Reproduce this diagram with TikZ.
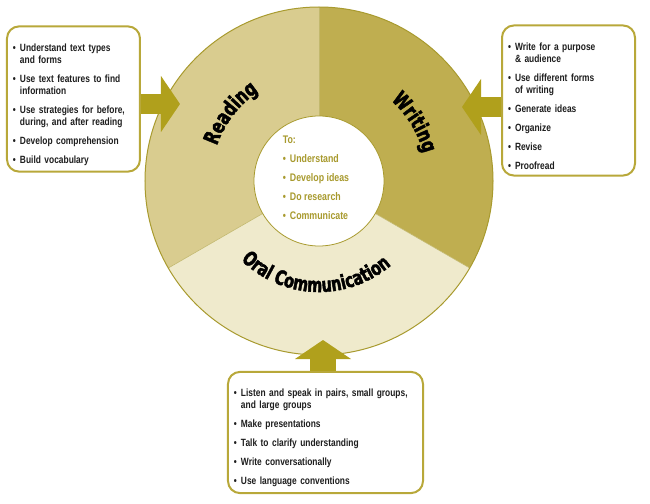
\documentclass[tikz,border=0pt]{standalone}
\usepackage{fontspec}
\setmainfont{Liberation Sans}[FakeStretch=0.8]
\newfontfamily\arcfont{DejaVu Sans}[FakeStretch=0.72, BoldFeatures={FakeBold=2.2}]
\usetikzlibrary{arrows.meta,decorations.text}
\definecolor{readcol}{RGB}{217,204,143}
\definecolor{writecol}{RGB}{191,174,80}
\definecolor{oralcol}{RGB}{239,234,204}
\definecolor{olive}{RGB}{168,154,46}
\definecolor{arrowcol}{RGB}{176,160,28}
\definecolor{boxcol}{RGB}{184,168,58}
\definecolor{txtcol}{RGB}{30,30,30}
\newcommand{\bul}[1]{\par\hangindent=7pt\hangafter=1\noindent\makebox[7pt][l]{\textbullet}#1}
\newcommand{\nl}{\hfil\break}
\newcommand{\labfont}{\arcfont\bfseries\fontsize{21}{21}\selectfont}
\newcommand{\oralfont}{\arcfont\bfseries\fontsize{20}{20}\selectfont}
\tikzset{
  infobox/.style={draw=boxcol, line width=2pt, rounded corners=12pt, fill=white,
    inner sep=6pt, align=left, text=txtcol,
    font=\bfseries\fontsize{10.5}{12}\selectfont\setlength{\parskip}{7pt}},
  bigarrow/.style={draw=arrowcol, line width=#1,
    -{Triangle[length=19pt, width=56pt, line width=0pt]}},
  arclabel/.style={decorate, decoration={text along path, text align=center, text={#1}}}
}
\begin{document}
\begin{tikzpicture}[x=1pt,y=1pt]
\useasboundingbox (-319,-322) rectangle (331,181);
% wheel
\foreach \a/\b/\c in {90/210/readcol, -30/90/writecol, 210/330/oralcol}
  \fill[\c] (0,0) -- (\a:174) arc[start angle=\a, end angle=\b, radius=174] -- cycle;
\foreach \a in {90,210,330} \draw[olive!70, line width=0.6pt] (0,0) -- (\a:174);
\draw[olive, line width=1pt] (0,0) circle[radius=174];
\draw[olive, fill=white, line width=0.8pt] (0,0) circle[radius=65];
\node[align=left, text=olive, font=\bfseries\fontsize{11}{19}\selectfont] (ctext) at (-3,3)
  {To:\\ \textbullet\hspace{4pt}Understand\\ \textbullet\hspace{4pt}Develop ideas\\
   \textbullet\hspace{4pt}Do research\\ \textbullet\hspace{4pt}Communicate};
% labels on the wheel
\path[arclabel={|\labfont|Reading}] (165:108) arc[start angle=165, end angle=120, radius=108];
\path[arclabel={|\labfont|Writing}] (60:108) arc[start angle=60, end angle=3, radius=108];
\path[arclabel={|\oralfont|Oral Communication}] (214:111) arc[start angle=214, end angle=322, radius=111];
% boxes
\node[infobox, text width=121pt, minimum height=132pt] (lbox) at (-245.5,82)
  {\bul{Understand text types\nl and forms}
   \bul{Use text features to find\nl information}
   \bul{Use strategies for before,\nl during, and after reading}
   \bul{Develop comprehension}
   \bul{Build vocabulary}};
\node[infobox, text width=121pt, minimum height=135pt] (rbox) at (249.5,80.5)
  {\bul{Write for a purpose\nl \& audience}
   \bul{Use different forms\nl of writing}
   \bul{Generate ideas}
   \bul{Organize}
   \bul{Revise}
   \bul{Proofread}};
\node[infobox, text width=183pt, minimum height=115pt] (bbox) at (6.5,-251.5)
  {\bul{Listen and speak in pairs, small groups,\nl and large groups}
   \bul{Make presentations}
   \bul{Talk to clarify understanding}
   \bul{Write conversationally}
   \bul{Use language conventions}};
% arrows into the wheel
\coordinate (ltip) at (-139,77);
\coordinate (rtip) at (143,74);
\coordinate (btip) at (4,-159);
\draw[bigarrow=20pt] (lbox.east |- ltip) -- (ltip);
\draw[bigarrow=20pt] (rbox.west |- rtip) -- (rtip);
\draw[bigarrow=26pt] (btip |- bbox.north) -- (btip);
\end{tikzpicture}
\end{document}
